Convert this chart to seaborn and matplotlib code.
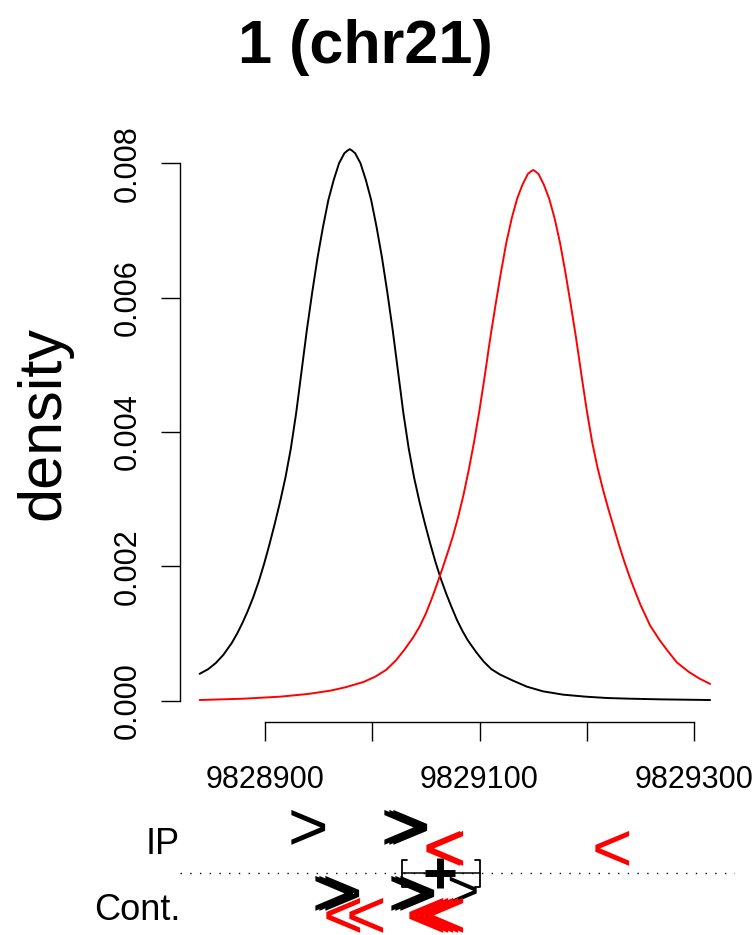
import numpy as np
import pandas as pd
import matplotlib
matplotlib.use("Agg")
import matplotlib.pyplot as plt
import seaborn as sns
from matplotlib.transforms import blended_transform_factory

# ---------------- data ----------------
ip_pos = [9828839, 9828847, 9828854, 9828861, 9828869, 9828874, 9828879, 9828884,
          9828889, 9828894, 9828899, 9828904, 9828909, 9828914, 9828919, 9828924,
          9828929, 9828934, 9828939, 9828944, 9828949, 9828954, 9828959, 9828964,
          9828969, 9828974, 9828977, 9828979, 9828981, 9828984, 9828989, 9828994,
          9828999, 9829004, 9829009, 9829014, 9829019, 9829024, 9829029, 9829034,
          9829039, 9829044, 9829049, 9829054, 9829059, 9829064, 9829069, 9829074,
          9829079, 9829084, 9829089, 9829097, 9829104, 9829111, 9829119, 9829131,
          9829144, 9829159, 9829178, 9829199, 9829219, 9829240, 9829269, 9829315]
ip_density = [0.00040, 0.00047, 0.00056, 0.00068, 0.00086, 0.00100, 0.00116, 0.00134,
              0.00154, 0.00177, 0.00203, 0.00232, 0.00263, 0.00296, 0.00332, 0.00375,
              0.00428, 0.00490, 0.00552, 0.00608, 0.00660, 0.00705, 0.00745, 0.00775,
              0.00800, 0.00815, 0.00819, 0.00821, 0.00819, 0.00815, 0.00800, 0.00775,
              0.00745, 0.00705, 0.00660, 0.00608, 0.00552, 0.00490, 0.00428, 0.00375,
              0.00332, 0.00296, 0.00264, 0.00234, 0.00206, 0.00181, 0.00159, 0.00139,
              0.00120, 0.00104, 0.00090, 0.00072, 0.00058, 0.00047, 0.00039, 0.00030,
              0.00021, 0.00014, 0.00009, 0.00006, 0.00004, 0.00003, 0.00002, 0.00001]

ctrl_pos = [9828839, 9828880, 9828914, 9828940, 9828961, 9828975, 9828992, 9829003,
            9829013, 9829022, 9829030, 9829038, 9829044, 9829050, 9829055, 9829060,
            9829065, 9829070, 9829075, 9829080, 9829085, 9829090, 9829095, 9829100,
            9829105, 9829110, 9829115, 9829120, 9829125, 9829130, 9829135, 9829140,
            9829145, 9829148, 9829150, 9829152, 9829155, 9829160, 9829165, 9829170,
            9829175, 9829180, 9829185, 9829190, 9829195, 9829200, 9829205, 9829210,
            9829215, 9829220, 9829225, 9829230, 9829235, 9829240, 9829245, 9829250,
            9829259, 9829268, 9829275, 9829284, 9829295, 9829305, 9829315]
ctrl_density = [0.00001, 0.00003, 0.00006, 0.00010, 0.00015, 0.00020, 0.00028, 0.00036,
                0.00046, 0.00060, 0.00076, 0.00094, 0.00110, 0.00130, 0.00150, 0.00172,
                0.00195, 0.00219, 0.00244, 0.00273, 0.00306, 0.00344, 0.00386, 0.00433,
                0.00485, 0.00540, 0.00590, 0.00638, 0.00682, 0.00718, 0.00747, 0.00768,
                0.00784, 0.00788, 0.00790, 0.00788, 0.00784, 0.00768, 0.00747, 0.00718,
                0.00682, 0.00638, 0.00590, 0.00540, 0.00485, 0.00432, 0.00385, 0.00347,
                0.00315, 0.00286, 0.00259, 0.00232, 0.00207, 0.00184, 0.00163, 0.00143,
                0.00112, 0.00090, 0.00075, 0.00057, 0.00043, 0.00033, 0.00025]

# tag positions (lower panel)
ip_fwd_tags = [9828940, 9829027, 9829031, 9829035]
ip_rev_tags = [9829066, 9829069, 9829223]
ctrl_fwd_tags = [9828962, 9828966, 9828972, 9829033, 9829037, 9829042]
ctrl_fwd_small = [9829084]
ctrl_rev_tags = [9828973, 9828994, 9829050, 9829055, 9829059, 9829064, 9829069]

peak_center = 9829063
peak_interval = [9829028, 9829100]

x_ticks = [9828900, 9829000, 9829100, 9829200, 9829300]
x_ticklabels = ["9828900", "", "9829100", "", "9829300"]
y_ticks = [0.000, 0.002, 0.004, 0.006, 0.008]
y_ticklabels = ["0.000", "0.002", "0.004", "0.006", "0.008"]
title = "1 (chr21)"
row_labels = ["IP", "Cont."]

# ---------------- style ----------------
sns.set_style("white")
plt.rcParams["font.family"] = ["Liberation Sans", "DejaVu Sans"]
for k in ["text.color", "axes.labelcolor", "xtick.color", "ytick.color"]:
    plt.rcParams[k] = "black"

W, H = 755, 935
fig = plt.figure(figsize=(W / 100, H / 100), dpi=100)

XLIM = (9828820.7, 9829338.2)
ax = fig.add_axes([180 / W, (H - 722) / H, 555 / W, 594 / H])

df = pd.concat([
    pd.DataFrame({"pos": ip_pos, "density": ip_density, "sample": "IP"}),
    pd.DataFrame({"pos": ctrl_pos, "density": ctrl_density, "sample": "Control"}),
])
sns.lineplot(data=df, x="pos", y="density", hue="sample",
             palette={"IP": "black", "Control": "red"}, estimator=None,
             legend=False, linewidth=1.4, ax=ax)

ax.set_xlim(*XLIM)
ax.set_ylim(-0.000317, 0.008525)
ax.set_xlabel("")
ax.set_ylabel("")
for s in ["top", "right"]:
    ax.spines[s].set_visible(False)
ax.spines["left"].set_bounds(0, 0.008)
ax.spines["bottom"].set_bounds(9828900, 9829300)
for s in ["left", "bottom"]:
    ax.spines[s].set_linewidth(1.0)
    ax.spines[s].set_color("black")
ax.set_xticks(x_ticks)
ax.set_xticklabels(x_ticklabels, fontsize=22)
ax.set_yticks(y_ticks)
ax.set_yticklabels(y_ticklabels, fontsize=22, rotation=90, va="center")
ax.tick_params(axis="both", direction="out", length=13.7, width=1.0,
               color="black", bottom=True, left=True)
ax.tick_params(axis="x", pad=17)
ax.tick_params(axis="y", pad=13)
ax.grid(False)
ax.set_facecolor("white")

fig.text(365 / W, 1 - 63 / H, title, ha="center", va="baseline",
         fontsize=44, fontweight="bold")
fig.text(44 / W, 1 - 423 / H, "density", rotation=90, ha="center", va="center",
         fontsize=44)

# ---------------- lower panel ----------------
ax2 = fig.add_axes([180 / W, 0, 555 / W, 135 / H])
ax2.set_xlim(*XLIM)
ax2.set_ylim(135, 0)
ax2.axis("off")
px = (XLIM[1] - XLIM[0]) / 555.0

ax2.axhline(73, color="black", lw=1.0, dashes=(1, 6))

tr = blended_transform_factory(ax2.transAxes, ax2.transData)
ax2.text(0.0, 45, row_labels[0], transform=tr, ha="right", va="center", fontsize=26)
ax2.text(0.0, 111, row_labels[1], transform=tr, ha="right", va="center", fontsize=26)

for x in ip_fwd_tags:
    ax2.text(x, 31, ">", ha="center", va="center", fontsize=50, color="black", clip_on=False)
for x in ctrl_fwd_tags:
    ax2.text(x, 97, ">", ha="center", va="center", fontsize=50, color="black", clip_on=False)
for x in ctrl_fwd_small:
    ax2.text(x, 95, ">", ha="center", va="center", fontsize=40, color="black", clip_on=False)
for x in ip_rev_tags:
    ax2.text(x, 52, "<", ha="center", va="center", fontsize=50, color="red", clip_on=False)
for x in ctrl_rev_tags:
    ax2.text(x, 119, "<", ha="center", va="center", fontsize=50, color="red", clip_on=False)

# peak interval with brackets and centre
a, b = peak_interval
ax2.plot([a, b], [73, 73], color="black", lw=1.1)
ax2.plot([a + 5 * px, a, a, a + 5 * px], [60, 60, 87, 87], color="black", lw=1.3)
ax2.plot([b - 5 * px, b, b, b - 5 * px], [60, 60, 87, 87], color="black", lw=1.3)
ax2.plot([peak_center], [73], marker="+", ms=21, mew=5, color="black")

fig.savefig("out.png", dpi=100, facecolor="white")
